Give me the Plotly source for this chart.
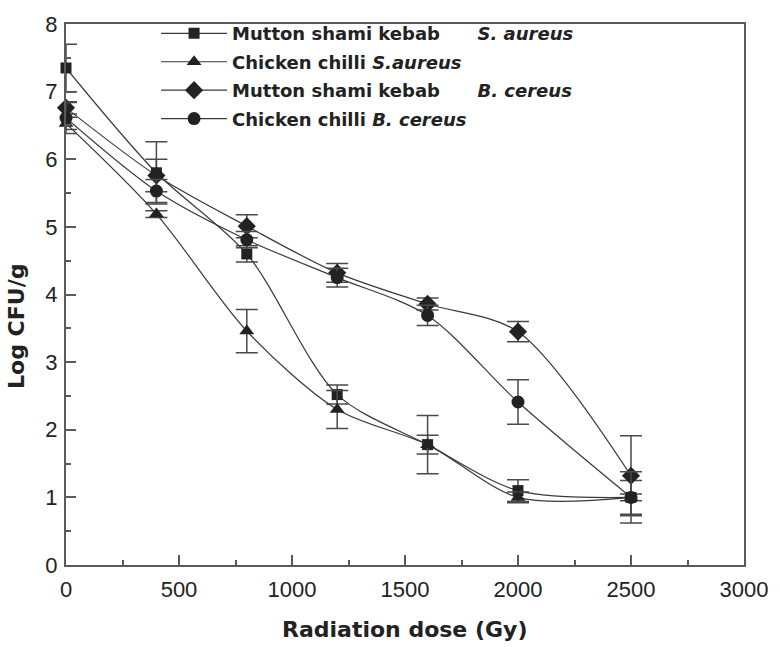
import plotly.graph_objects as go

# Radiation dose (Gy)
dose = [0, 400, 800, 1200, 1600, 2000, 2500]

# Log CFU/g with standard deviations
mutton_sa = [7.35, 5.80, 4.60, 2.52, 1.78, 1.10, 1.00]
mutton_sa_err = [0.35, 0.46, 0.12, 0.14, 0.43, 0.16, 0.25]

chicken_sa = [6.53, 5.19, 3.46, 2.30, 1.78, 1.00, 1.00]
chicken_sa_err = [0.09, 0.05, 0.32, 0.28, 0.14, 0.08, 0.05]

mutton_bc = [6.76, 5.76, 5.01, 4.32, 3.86, 3.45, 1.32]
mutton_bc_err = [0.09, 0.24, 0.17, 0.14, 0.09, 0.15, 0.59]

chicken_bc = [6.61, 5.53, 4.81, 4.25, 3.69, 2.41, 1.00]
chicken_bc_err = [0.23, 0.17, 0.12, 0.14, 0.15, 0.33, 0.38]

sp = "\u00a0"
names = [
    f"<b>Mutton shami kebab{sp*6}<i>S. aureus</i></b>",
    "<b>Chicken chilli <i>S.aureus</i></b>",
    f"<b>Mutton shami kebab{sp*6}<i>B. cereus</i></b>",
    "<b>Chicken chilli <i>B. cereus</i></b>",
]
series = [
    (mutton_sa, mutton_sa_err, "square", 11),
    (chicken_sa, chicken_sa_err, "triangle-up", 13),
    (mutton_bc, mutton_bc_err, "diamond", 14),
    (chicken_bc, chicken_bc_err, "circle", 13),
]

INK = "#222222"
AXIS = "#5a5a5a"

fig = go.Figure()
for i, (name, (vals, err, sym, size)) in enumerate(zip(names, series)):
    fig.add_trace(go.Scatter(
        x=dose, y=vals, name=name, legendgroup=f"g{i}",
        mode="lines+markers",
        line=dict(color="#3a3a3a", width=1.2, shape="spline", smoothing=0.85),
        marker=dict(symbol=sym, size=size, color=INK, line=dict(width=0)),
        error_y=dict(type="data", array=err, visible=True,
                     color="#4a4a4a", thickness=1.5, width=11),
        cliponaxis=False,
    ))

W, H = 780, 647
L, R, T, B = 66, 29, 14, 82
pw, ph = W - L - R, H - T - B

def px_x(p):
    return (p - L) / pw

def px_y(p):
    return (H - B - p) / ph

axis_common = dict(
    showline=True, linecolor=AXIS, linewidth=2, mirror=True,
    ticks="inside", tickcolor=AXIS, tickwidth=1.5, ticklen=10,
    showgrid=False, zeroline=False,
    tickfont=dict(family="Liberation Sans, Arial, sans-serif", size=22, color=INK),
)

fig.update_layout(
    width=W, height=H,
    margin=dict(l=L, r=R, t=T, b=B),
    paper_bgcolor="white", plot_bgcolor="white",
    showlegend=True,
    legend=dict(
        x=px_x(157), y=px_y(5), xanchor="left", yanchor="top",
        bgcolor="rgba(0,0,0,0)", borderwidth=0,
        itemwidth=66, tracegroupgap=2,
        font=dict(family="DejaVu Sans, sans-serif", size=18, color=INK),
    ),
    xaxis=dict(
        range=[0, 3000], tickvals=[0, 500, 1000, 1500, 2000, 2500, 3000],
        minor=dict(ticks="inside", tickvals=[250, 750, 1250, 1750, 2250, 2750],
                   ticklen=5, tickcolor=AXIS, tickwidth=1.5),
        ticklabelstandoff=4,
        **axis_common,
    ),
    yaxis=dict(
        range=[0, 8], tickvals=list(range(0, 9)),
        minor=dict(ticks="inside", dtick=0.5, ticklen=5, tickcolor=AXIS, tickwidth=1.5),
        ticklabelstandoff=2,
        **axis_common,
    ),
    annotations=[
        dict(text="<b>Radiation dose (Gy)</b>", xref="paper", yref="paper",
             x=px_x(408), y=px_y(631), xanchor="center", yanchor="middle",
             showarrow=False,
             font=dict(family="DejaVu Sans, sans-serif", size=22, color=INK)),
        dict(text="<b>Log CFU/g</b>", xref="paper", yref="paper",
             x=px_x(16), y=px_y(322), xanchor="center", yanchor="middle",
             textangle=-90, showarrow=False,
             font=dict(family="DejaVu Sans, sans-serif", size=22, color=INK)),
    ],
)

fig.write_html("out.html")
